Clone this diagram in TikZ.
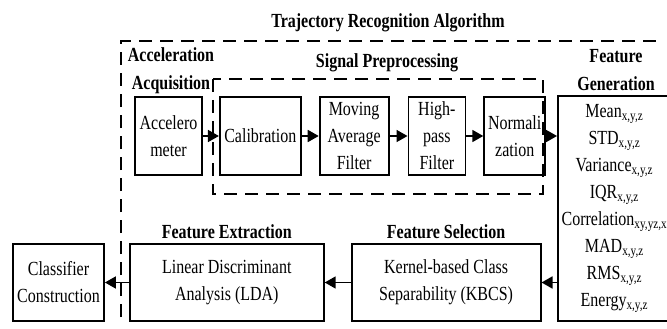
\documentclass[tikz,border=0pt]{standalone}
\usepackage{fontspec}
\setmainfont{Liberation Serif}[FakeStretch=0.8]
\usetikzlibrary{arrows.meta,positioning}

\begin{document}
\begin{tikzpicture}[
          x=1pt, y=-1pt,
          font=\fontsize{20}{27}\selectfont,
          box/.style   = {draw, line width=1.8pt, minimum height=78pt, align=center, inner sep=1pt},
          wire/.style  = {line width=1.8pt, -{Triangle[length=11pt,width=12pt]}},
          frame/.style = {line width=2.4pt, dash pattern=on 13pt off 8pt},
          head/.style  = {font=\fontsize{20}{28}\selectfont\bfseries, align=center}
        ]
        \useasboundingbox (0,0) rectangle (667,329);

        % --- upper row
        \node[box, minimum width=67pt]                 (acc)  at (168.5,136) {Accelero\\meter};
        \node[box, minimum width=81pt, right=16pt of acc]  (cal)  {Calibration};
        \node[box, minimum width=69pt, right=17pt of cal]  (maf)  {Moving\\Average\\Filter};
        \node[box, minimum width=57pt, right=18pt of maf]  (hpf)  {High-\\pass\\Filter};
        \node[box, minimum width=61pt, right=17pt of hpf]  (norm) {Normali\\zation};
        \node[box, minimum width=113pt, minimum height=225pt, anchor=north west] (feat) at (557,95)
          {Mean\textsubscript{x,y,z}\\STD\textsubscript{x,y,z}\\Variance\textsubscript{x,y,z}\\IQR\textsubscript{x,y,z}\\
           Correlation\textsubscript{xy,yz,x}\\MAD\textsubscript{x,y,z}\\RMS\textsubscript{x,y,z}\\Energy\textsubscript{x,y,z}};

        % --- lower row
        \node[box, minimum width=91pt, minimum height=77pt]                 (cls)  at (58.5,282.5) {Classifier\\Construction};
        \node[box, minimum width=194pt, minimum height=77pt, right=24pt of cls] (lda)  {Linear Discriminant\\Analysis (LDA)};
        \node[box, minimum width=189pt, minimum height=77pt, right=26pt of lda] (kbcs) {Kernel-based Class\\Separability (KBCS)};

        % --- headings
        \node[head] (tra) at (388,23)  {Trajectory Recognition Algorithm};
        \node[head] (aqu) at (171,71)  {Acceleration\\Acquisition};
        \node[head] (sig) at (387,63)  {Signal Preprocessing};
        \node[head] (gen) at (616,70)  {Feature\\Generation};
        \node[head, above=1pt of lda]  (ext) {Feature Extraction};
        \node[head, above=1pt of kbcs] (sel) {Feature Selection};

        % --- dashed frames
        \draw[frame] (121,317) -- (121,41) -- (662,41);
        \draw[frame] (213,79) rectangle (543,194);

        % --- wiring
        \draw[wire] (acc) -- (cal);
        \draw[wire] (cal) -- (maf);
        \draw[wire] (maf) -- (hpf);
        \draw[wire] (hpf) -- (norm);
        \draw[wire] (norm) -- (norm -| feat.west);
        \draw[wire] (kbcs -| feat.west) -- (kbcs);
        \draw[wire] (kbcs) -- (lda);
        \draw[wire] (lda) -- (cls);
    \end{tikzpicture}
\end{document}
